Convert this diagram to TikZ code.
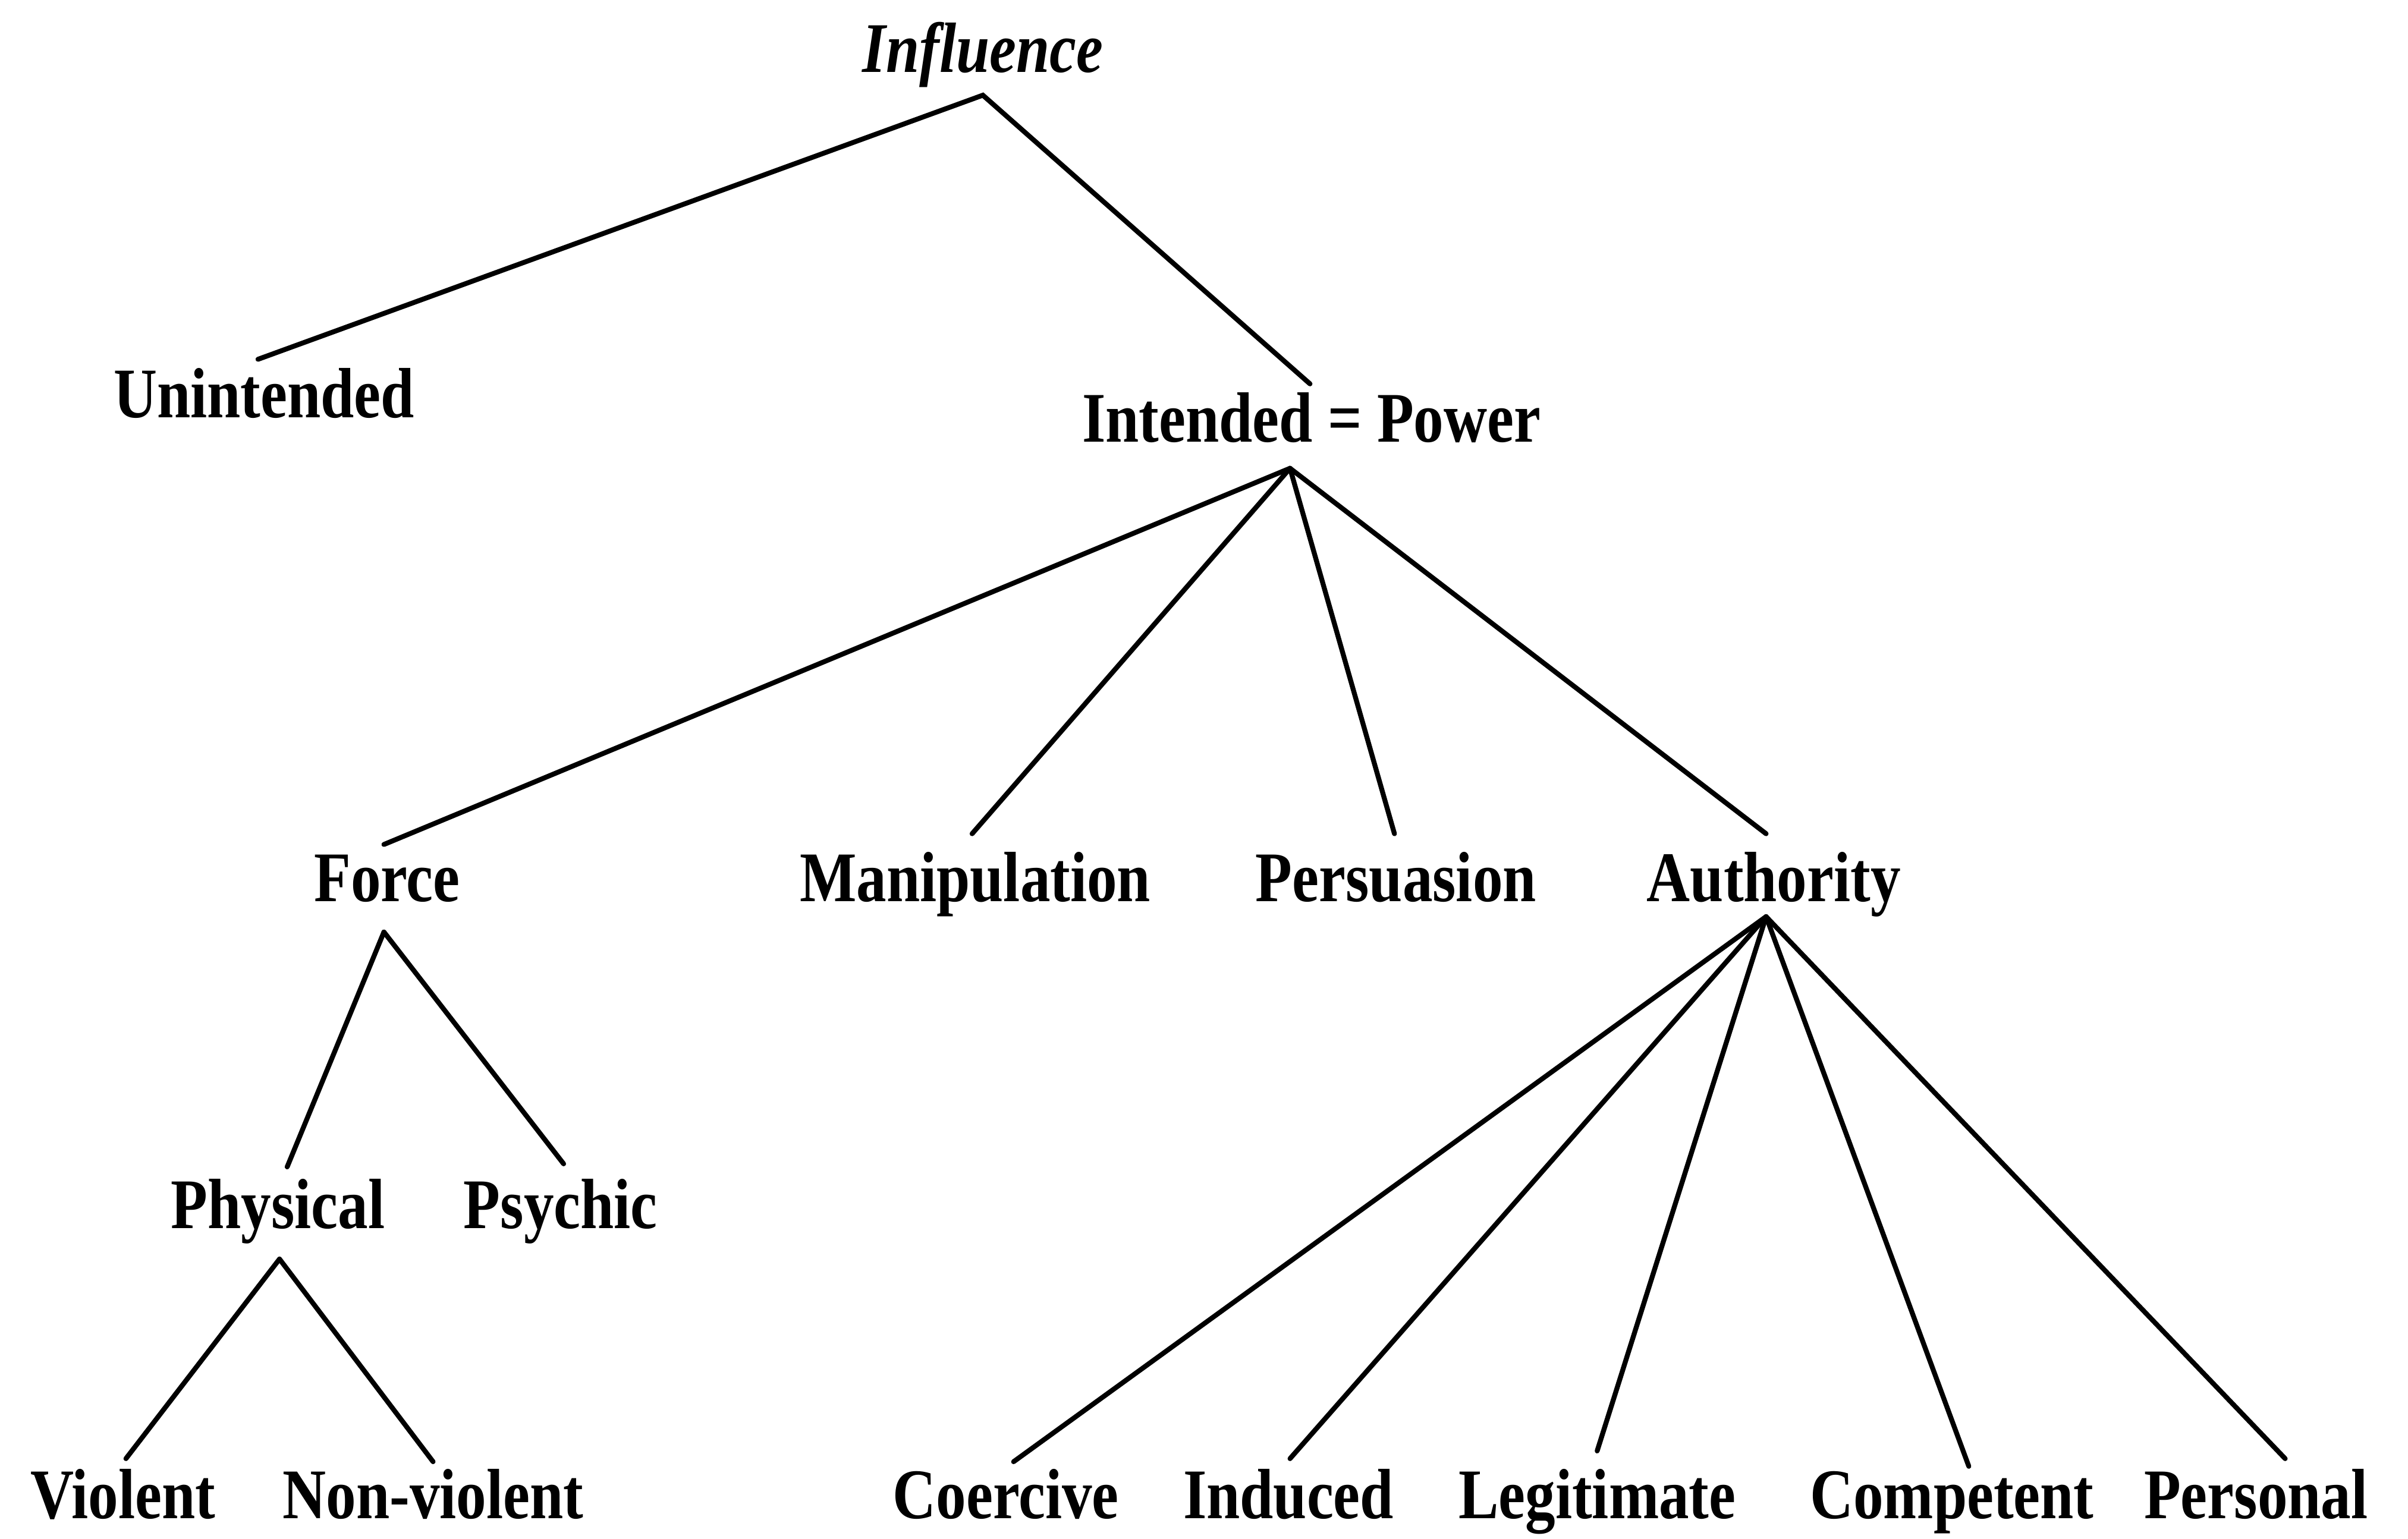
\documentclass[tikz,border=0pt]{standalone}
\usepackage{fontspec}
\setmainfont{Liberation Serif}
\newcommand\cond[1]{\scalebox{0.87}[1.03]{#1}}
\begin{document}
\begin{tikzpicture}[x=0.5pt,y=-0.5pt,
  lbl/.style={anchor=base,inner sep=0pt,font=\fontsize{22.5}{27}\selectfont\bfseries},
  edge/.style={line width=1.6pt,line cap=round}]
\useasboundingbox (0,0) rectangle (1568,1002);
% labels
\node[lbl] (influence) at (640,47) {\cond{\itshape Influence}};
\node[lbl] (unintended) at (172,272) {\cond{Unintended}};
\node[lbl] (intended) at (854,288) {\cond{Intended = Power}};
\node[lbl] (force) at (252,587) {\cond{Force}};
\node[lbl] (manip) at (635,587) {\cond{Manipulation}};
\node[lbl] (persu) at (909,587) {\cond{Persuasion}};
\node[lbl] (auth) at (1155,587) {\cond{Authority}};
\node[lbl] (physical) at (181,800) {\cond{Physical}};
\node[lbl] (psychic) at (365,800) {\cond{Psychic}};
\node[lbl] (violent) at (80,989) {\cond{Violent}};
\node[lbl] (nonviolent) at (282,989) {\cond{Non-violent}};
\node[lbl] (coercive) at (655,989) {\cond{Coercive}};
\node[lbl] (induced) at (839,989) {\cond{Induced}};
\node[lbl] (legit) at (1040,989) {\cond{Legitimate}};
\node[lbl] (compet) at (1271,989) {\cond{Competent}};
\node[lbl] (personal) at (1469,989) {\cond{Personal}};
% connector points
\coordinate (influence-b) at (640,62);
\coordinate (unintended-t) at (168,234);
\coordinate (intended-t) at (853,250);
\coordinate (intended-b) at (840,305);
\coordinate (force-t) at (250,550);
\coordinate (manip-t) at (633,543);
\coordinate (persu-t) at (908,543);
\coordinate (auth-t) at (1150,543);
\coordinate (force-b) at (250,607);
\coordinate (physical-t) at (187,760);
\coordinate (psychic-t) at (367,758);
\coordinate (physical-b) at (182,820);
\coordinate (violent-t) at (82,950);
\coordinate (nonviolent-t) at (282,952);
\coordinate (auth-b) at (1150,597);
\coordinate (coercive-t) at (660,952);
\coordinate (induced-t) at (840,950);
\coordinate (legit-t) at (1040,945);
\coordinate (compet-t) at (1282,955);
\coordinate (personal-t) at (1488,950);
% connectors
\draw[edge] (unintended-t) -- (influence-b) -- (intended-t);
\foreach \c in {force-t,manip-t,persu-t,auth-t} \draw[edge] (intended-b) -- (\c);
\foreach \c in {physical-t,psychic-t} \draw[edge] (force-b) -- (\c);
\foreach \c in {violent-t,nonviolent-t} \draw[edge] (physical-b) -- (\c);
\foreach \c in {coercive-t,induced-t,legit-t,compet-t,personal-t} \draw[edge] (auth-b) -- (\c);
\end{tikzpicture}
\end{document}
